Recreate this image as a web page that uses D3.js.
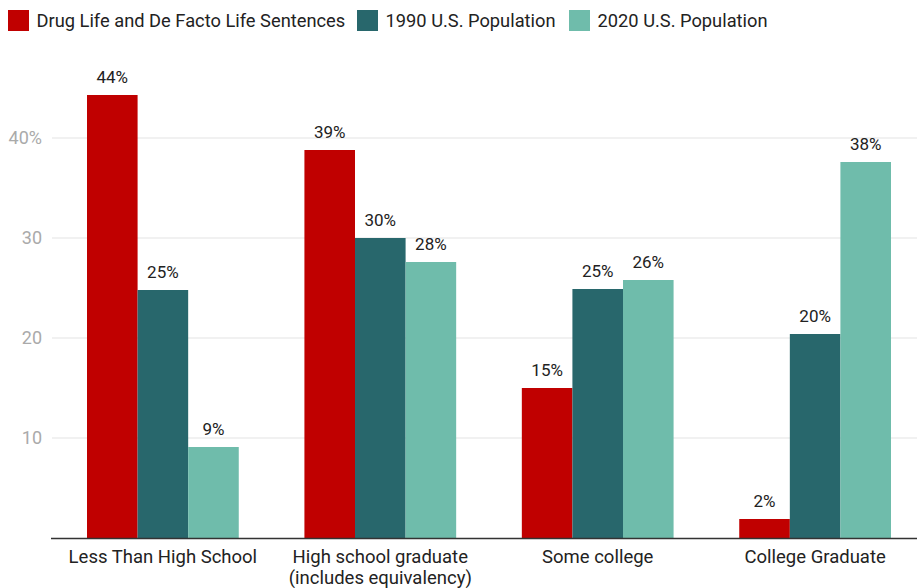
<!DOCTYPE html>
<html><head><meta charset="utf-8">
<script src="https://cdn.jsdelivr.net/npm/d3@7"></script>
<style>
html,body{margin:0;padding:0;background:#fff;}
svg{display:block;font-family:Roboto,"Noto Sans",sans-serif;}
</style></head>
<body>
<svg id="c" width="917" height="588"></svg>
<script>
const categories = ["Less Than High School", "High school graduate\n(includes equivalency)", "Some college", "College Graduate"];
const seriesNames = ["Drug Life and De Facto Life Sentences", "1990 U.S. Population", "2020 U.S. Population"];
const drugLife = [44.3, 38.8, 15.0, 1.9];
const pop1990 = [24.8, 30.0, 24.9, 20.4];
const pop2020 = [9.1, 27.6, 25.8, 37.6];
const valueLabels = [["44%","39%","15%","2%"],["25%","30%","25%","20%"],["9%","28%","26%","38%"]];
const yTicks = [10, 20, 30, 40];
const colors = ["#c00000", "#28676c", "#6fbcab"];

const series = [drugLife, pop1990, pop2020];
const svg = d3.select("#c");
const x0 = d3.scaleBand().domain(d3.range(categories.length)).range([52, 926]).paddingInner(0.302).paddingOuter(0.161);
const x1 = d3.scaleBand().domain(d3.range(series.length)).range([0, x0.bandwidth()]);
const y = d3.scaleLinear().domain([0, 40]).range([538, 138]);

// gridlines
svg.append("g").selectAll("line").data(yTicks).join("line")
  .attr("x1", 52).attr("x2", 917).attr("y1", d => y(d)).attr("y2", d => y(d))
  .attr("stroke", "#e3e3e3").attr("stroke-width", 1);
svg.append("g").selectAll("text").data(yTicks).join("text")
  .attr("x", 42).attr("y", d => y(d)).attr("dy", "0.35em").attr("text-anchor", "end")
  .attr("fill", "#aaaaaa").attr("font-size", 18)
  .text(d => d === 40 ? d + "%" : d);

// bars
const groups = svg.append("g").selectAll("g").data(series).join("g")
  .attr("fill", (d, i) => colors[i]);
groups.each(function(vals, si) {
  const g = d3.select(this);
  g.selectAll("rect").data(vals).join("rect")
    .attr("x", (d, ci) => x0(ci) + x1(si))
    .attr("width", x1.bandwidth())
    .attr("y", d => y(d))
    .attr("height", d => y(0) - y(d));
  g.selectAll("text").data(vals).join("text")
    .attr("x", (d, ci) => x0(ci) + x1(si) + x1.bandwidth() / 2)
    .attr("y", d => y(d) - 12)
    .attr("text-anchor", "middle").attr("fill", "#222").attr("font-size", 17)
    .text((d, ci) => valueLabels[si][ci]);
});

// baseline
svg.append("line").attr("x1", 51).attr("x2", 917).attr("y1", y(0)+0.5).attr("y2", y(0)+0.5)
  .attr("stroke", "#333").attr("stroke-width", 1.5);

// category labels
svg.append("g").selectAll("text").data(categories).join("text")
  .attr("text-anchor", "middle").attr("fill", "#222").attr("font-size", 18.5)
  .each(function(d, i) {
    const t = d3.select(this);
    d.split("\n").forEach((line, li) => {
      t.append("tspan").attr("x", x0(i) + x0.bandwidth() / 2).attr("y", 563 + li * 20.5).text(line);
    });
  });

// legend
const legendX = [8, 357, 569];
const lg = svg.append("g").selectAll("g").data(seriesNames).join("g")
  .attr("transform", (d, i) => `translate(${legendX[i]},10)`);
lg.append("rect").attr("width", 21).attr("height", 21).attr("fill", (d, i) => colors[i]);
lg.append("text").attr("x", 28.5).attr("y", 17).attr("font-size", 18.3).attr("fill", "#222").text(d => d);
</script>
</body></html>
